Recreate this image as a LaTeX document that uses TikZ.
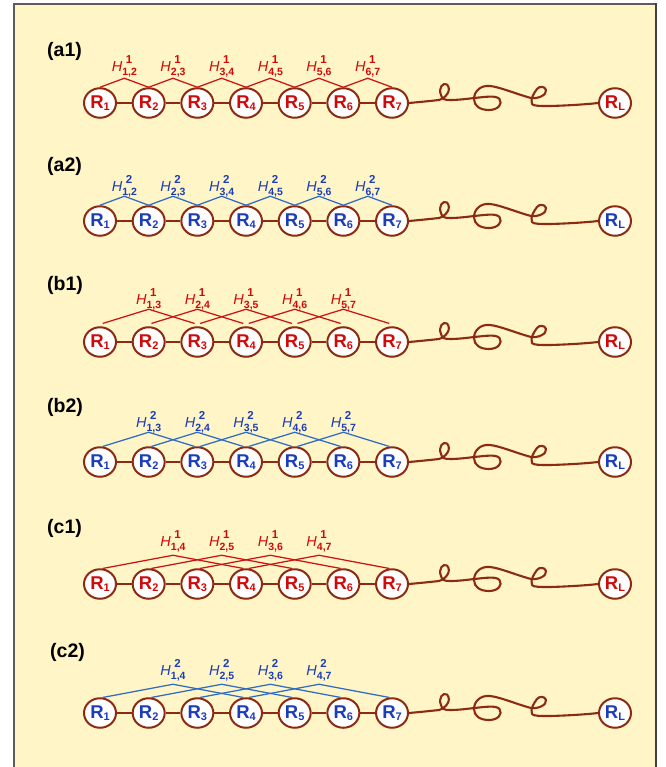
\documentclass[tikz,border=0pt]{standalone}
\usepackage{fontspec}
\setmainfont{Liberation Sans}
\usetikzlibrary{shapes.geometric,calc}

\definecolor{paper}{HTML}{FFF5C6}
\definecolor{framegray}{HTML}{5C5C5C}
\definecolor{chain}{HTML}{8C2A12}
\definecolor{redtxt}{HTML}{D00A0A}
\definecolor{redline}{HTML}{CC1414}
\definecolor{bluetxt}{HTML}{1C3DBA}
\definecolor{blueline}{HTML}{2E6CC6}

\tikzset{
  res/.style={ellipse, draw=chain, line width=2pt, fill=white,
    minimum width=32pt, minimum height=29.5pt, inner sep=0pt,
    font=\fontsize{18.5}{18.5}\selectfont\bfseries},
  link/.style={draw=chain, line width=2.6pt},
  coil/.style={draw=chain, line width=2.1pt, line cap=round, line join=round},
  hop/.style={line width=1.25pt},
  hlabel/.style={anchor=base, inner sep=0pt, font=\fontsize{14.5}{15}\selectfont},
  tag/.style={anchor=base west, inner sep=0pt, font=\fontsize{19.5}{20}\selectfont\bfseries},
}

% residue name R_i
\newcommand\resname[1]{R\raisebox{-2.5pt}{\fontsize{11}{11}\selectfont\bfseries #1}}
% coupling name H^level_{i,j}
\newcommand\hname[3]{\textit{H}\raisebox{8pt}{\rlap{\kern3.5pt\fontsize{11.5}{11.5}\selectfont\bfseries #1}}\raisebox{-4pt}{\fontsize{10.5}{10.5}\selectfont\bfseries #2,#3}}

\begin{document}
\begin{tikzpicture}[x=1pt,y=-1pt]
\useasboundingbox (0,0) rectangle (665,767);
% panel
\fill[paper] (14,4) rectangle (656,767);
\draw[framegray, line width=1.4pt] (14,767) -- (14,4) -- (656,4);
\draw[framegray!70!black, line width=2.6pt] (656,3.3) -- (656,767);

\foreach \row/\y/\ty/\tx/\k/\lev/\tc/\lc/\peak/\gap/\lift/\off in {
  a1/103/57/47/1/1/redtxt/redline/9/0/7/0,
  a2/221/172/47/1/2/bluetxt/blueline/9/0/5/0,
  b1/342/290/47/2/1/redtxt/redline/14/3/5/10,
  b2/462/412/47/2/2/bluetxt/blueline/14/0/5/10,
  c1/584/533/47/3/1/redtxt/redline/13/0/9/10,
  c2/713/657/50/3/2/bluetxt/blueline/13/0/9/10} {
  % row tag
  \node[tag] (\row-tag) at (\tx,\ty) {(\row)};
  % residues
  \foreach \i [evaluate=\i as \xx using 100+48.67*(\i-1)] in {1,...,7}
    \node[res, text=\tc] (\row-\i) at (\xx,\y) {\resname{\i}};
  \node[res, text=\tc] (\row-L) at (615,\y) {\resname{L}};
  % backbone links
  \foreach \i [evaluate=\i as \j using int(\i+1)] in {1,...,6}
    \draw[link] (\row-\i) -- (\row-\j);
  % flexible tail to R_L
  \draw[coil] (\row-7.east) .. controls (420,\y-1) and (430,\y-2) .. (439,\y-3)
    .. controls (446,\y-5) and (452,\y-13) .. (447,\y-18.5)
    .. controls (443,\y-21) and (438,\y-15) .. (441,\y-8)
    .. controls (442,\y-4) and (444,\y-3) .. (450,\y-3)
    .. controls (458,\y-3) and (466,\y-4) .. (474,\y-5)
    .. controls (485,\y-6) and (496,\y-8) .. (499.5,\y-4)
    .. controls (503,\y+1) and (498,\y+7) .. (489,\y+7)
    .. controls (480,\y+7) and (474,\y+3) .. (474,\y-4)
    .. controls (474,\y-12) and (481,\y-18) .. (490,\y-17)
    .. controls (500,\y-16) and (516,\y-9) .. (531,\y-5)
    .. controls (538,\y-4) and (547,\y-8) .. (546,\y-13)
    .. controls (545,\y-17) and (539,\y-17) .. (537,\y-14)
    .. controls (534,\y-10) and (530,\y-4) .. (532,\y+1)
    .. controls (533,\y+3) and (540,\y+3) .. (550,\y+3)
    .. controls (570,\y+2.5) and (590,\y+1) .. (\row-L.west);
  % couplings
  \pgfmathtruncatemacro\last{7-\k}
  \pgfmathtruncatemacro\aout{90-\off}
  \pgfmathtruncatemacro\ain{90+\off}
  \foreach \i in {1,...,\last} {
    \pgfmathtruncatemacro\j{\i+\k}
    \coordinate (\row-p\i) at ($(\row-\i.north)!0.5!(\row-\j.north) + (0,-\gap-\peak)$);
    \draw[hop, draw=\lc] ([yshift=\gap pt]\row-\i.\aout) -- (\row-p\i) -- ([yshift=\gap pt]\row-\j.\ain);
    \node[hlabel, text=\tc] (\row-h\i) at ([yshift=\lift pt]\row-p\i) {\hname{\lev}{\i}{\j}};
  }
}
\end{tikzpicture}
\end{document}
